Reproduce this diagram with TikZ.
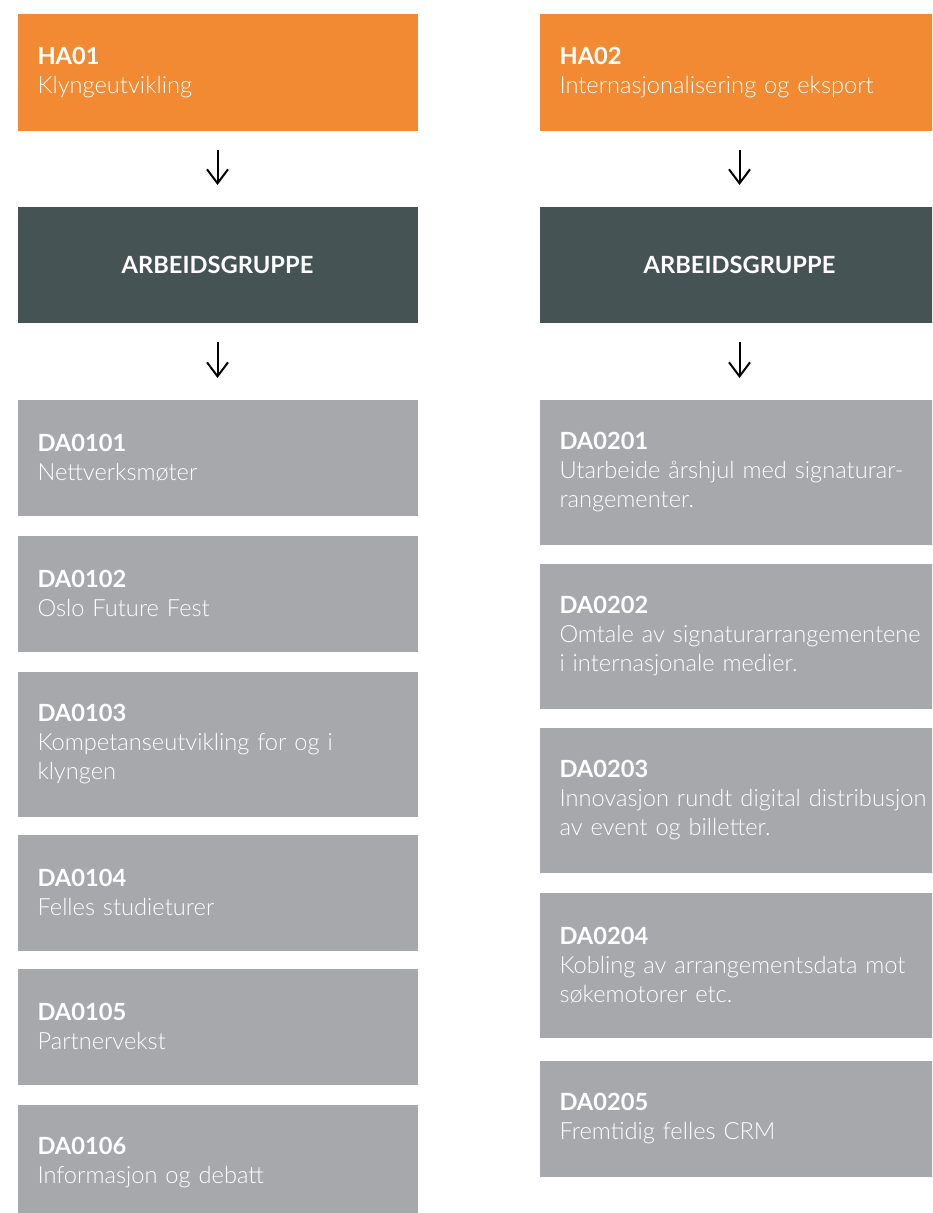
\documentclass[tikz,border=0pt]{standalone}
\usepackage{fontspec}
\setmainfont{Lato}
\newfontfamily\lightfont{Lato Light}
\usetikzlibrary{arrows.meta}

\definecolor{haorange}{RGB}{242,138,51}
\definecolor{agslate}{RGB}{70,83,84}
\definecolor{dagray}{RGB}{167,168,172}

\tikzset{every picture/.style={line width=0.75pt}}
\tikzset{
  box/.style={anchor=north west, minimum width=300pt, text width=270pt, inner xsep=15pt, inner ysep=0pt,
    align=left, text=white, font=\fontsize{17.75}{21.75}\selectfont},
  habox/.style={box, fill=haorange, minimum height=87pt},
  agbox/.style={box, fill=agslate, minimum height=87pt, align=center},
  dabox/.style={box, fill=dagray, minimum height=87pt},
  dabig/.style={dabox, minimum height=108.75pt},
  dawide/.style={dabig, text width=290pt},
  arr/.style={-{Straight Barb[length=10.5pt,width=15.75pt]}, line width=1.5pt, shorten <=14.25pt, shorten >=15.75pt}
}

\begin{document}
\begin{tikzpicture}[x=0.75pt,y=0.75pt,yscale=-1,xscale=1]
\clip (0,0) rectangle (932,1213);

% HA01 column
\node [habox] (ha01) at (17,14) {\textbf{HA01}\\{\lightfont Klyngeutvikling}};
\node [agbox] (ag01) at (17,206) {\textbf{ARBEIDSGRUPPE}};
\node [dabox] (da0101) at (17,399) {\textbf{DA0101}\\{\lightfont Nettverksmøter}};
\node [dabox] (da0102) at (17,535) {\textbf{DA0102}\\{\lightfont Oslo Future Fest}};
\node [dabig] (da0103) at (17,671) {\textbf{DA0103}\\{\lightfont Kompetanseutvikling for og i}\\{\lightfont klyngen}};
\node [dabox] (da0104) at (17,834) {\textbf{DA0104}\\{\lightfont Felles studieturer}};
\node [dabox] (da0105) at (17,968) {\textbf{DA0105}\\{\lightfont Partnervekst}};
\node [dabox] (da0106) at (17,1104) {\textbf{DA0106}\\{\lightfont Informasjon og debatt}};

% HA02 column
\node [habox] (ha02) at (539,14) {\textbf{HA02}\\{\lightfont Internasjonalisering og eksport}};
\node [agbox] (ag02) at (539,206) {\textbf{ARBEIDSGRUPPE}};
\node [dabig] (da0201) at (539,399) {\textbf{DA0201}\\{\lightfont Utarbeide årshjul med signaturar-}\\{\lightfont rangementer.}};
\node [dawide] (da0202) at (539,563) {\textbf{DA0202}\\{\lightfont Omtale av signaturarrangementene}\\{\lightfont i internasjonale medier.}};
\node [dawide] (da0203) at (539,727) {\textbf{DA0203}\\{\lightfont Innovasjon rundt digital distribusjon}\\{\lightfont av event og billetter.}};
\node [dabig] (da0204) at (539,892) {\textbf{DA0204}\\{\lightfont Kobling av arrangementsdata mot}\\{\lightfont søkemotorer etc.}};
\node [dabox] (da0205) at (539,1060) {\textbf{DA0205}\\{\lightfont Fremtidig felles CRM}};

% arrows
\draw [arr] (ha01) -- (ag01);
\draw [arr] (ag01) -- (da0101);
\draw [arr] (ha02) -- (ag02);
\draw [arr] (ag02) -- (da0201);

\end{tikzpicture}
\end{document}
